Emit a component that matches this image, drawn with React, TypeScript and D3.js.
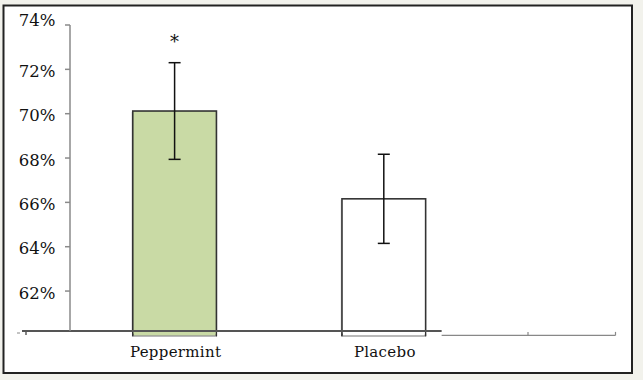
import React from "react";
import * as d3 from "d3";

const categories = ["Peppermint", "Placebo"];
const means = [70.12, 66.16];
const errors = [2.18, 2.01];
const fills = ["#c9daa5", "#ffffff"];
const markers = ["*", ""];
const yTicks = [62, 64, 66, 68, 70, 72, 74];

const W = 643;
const H = 380;
const FONT = "'DejaVu Serif', serif";

export default function App() {
  const y = d3.scaleLinear().domain([60, 74]).range([335.4, 25]);
  const axisX = 70;
  const step = 209.2;
  const x = d3
    .scaleBand<string>()
    .domain([...categories, "_"])
    .range([axisX, axisX + step * 3])
    .paddingInner(0.6)
    .paddingOuter(0.3);
  const bw = x.bandwidth();
  const baseY = y(60) - 4.4;
  const capW = 12;

  return (
    <div style={{ position: "absolute", left: 0, top: 0 }}>
      <svg width={W} height={H} style={{ display: "block" }}>
        <rect x={0} y={0} width={W} height={H} fill="#f2f2ec" />
        <rect x={3.5} y={5.5} width={628.5} height={367.5} fill="#ffffff" stroke="#222" strokeWidth={2} />

        {/* bars */}
        {categories.map((c, i) => (
          <g key={c}>
            <rect
              x={x(c)! - 1.5}
              y={y(means[i]) + 1}
              width={bw}
              height={y(60) - y(means[i])}
              fill="#000"
              opacity={0.1}
            />
            <rect
              x={x(c)}
              y={y(means[i])}
              width={bw}
              height={y(60) - y(means[i])}
              fill={fills[i]}
              stroke="#333"
              strokeWidth={1.6}
            />
          </g>
        ))}

        {/* white mask above original baseline between bars */}
        <rect x={10} y={baseY + 1} width={x(categories[0])! - 10 - 1} height={8} fill="#fff" />
        <rect
          x={x(categories[0])! + bw + 1}
          y={baseY + 1}
          width={x(categories[1])! - x(categories[0])! - bw - 2}
          height={8}
          fill="#fff"
        />
        <rect x={x(categories[1])! + bw + 1} y={baseY + 1} width={200} height={8} fill="#fff" />

        {/* original baseline remnants under bars */}
        {categories.map((c, i) => (
          <g key={"b" + c} stroke="#999" strokeWidth={1}>
            <rect x={x(c)! + 1} y={baseY + 1} width={bw - 2} height={y(60) - baseY - 0.5} fill={fills[i]} stroke="none" />
            <line x1={x(c)} x2={x(c)! + bw} y1={y(60) + 0.5} y2={y(60) + 0.5} />
            <line x1={x(c)} x2={x(c)} y1={y(60) - 2} y2={y(60) + 1} stroke="#333" />
            <line x1={x(c)! + bw} x2={x(c)! + bw} y1={y(60) - 2} y2={y(60) + 1} stroke="#333" />
          </g>
        ))}

        {/* right remnant axis */}
        <g stroke="#888" strokeWidth={1.2}>
          <line x1={x(categories[1])! + bw + 16} x2={615.5} y1={y(60)} y2={y(60)} />
          <line x1={528} x2={528} y1={y(60) - 3.5} y2={y(60)} />
          <line x1={615.5} x2={615.5} y1={y(60) - 3.5} y2={y(60)} />
        </g>

        {/* left remnant */}
        <line x1={17} x2={20} y1={baseY + 2} y2={baseY + 2} stroke="#888" strokeWidth={1} />
        <line x1={26} x2={26} y1={baseY} y2={baseY + 4} stroke="#333" strokeWidth={1.2} />

        {/* x axis */}
        <line x1={22} x2={x(categories[1])! + bw + 16} y1={baseY} y2={baseY} stroke="#555" strokeWidth={2} />

        {/* y axis */}
        <g stroke="#8a8a8a" strokeWidth={1.5}>
          <line x1={axisX} x2={axisX} y1={y(74)} y2={baseY} />
          {yTicks.map((t) => (
            <line key={t} x1={axisX - 5} x2={axisX} y1={y(t)} y2={y(t)} />
          ))}
        </g>
        {yTicks.map((t) => (
          <text
            key={"l" + t}
            x={55.5}
            y={y(t) + (t === 74 ? 0.5 : 7.5)}
            textAnchor="end"
            fontFamily={FONT}
            fontSize={16.5}
            fill="#111"
          >
            {t}%
          </text>
        ))}

        {/* error bars */}
        {categories.map((c, i) => {
          const cx = x(c)! + bw / 2;
          return (
            <g key={"e" + c} stroke="#111" strokeWidth={1.5}>
              <line x1={cx} x2={cx} y1={y(means[i] + errors[i])} y2={y(means[i] - errors[i])} />
              <line x1={cx - capW / 2} x2={cx + capW / 2} y1={y(means[i] + errors[i])} y2={y(means[i] + errors[i])} />
              <line x1={cx - capW / 2} x2={cx + capW / 2} y1={y(means[i] - errors[i])} y2={y(means[i] - errors[i])} />
            </g>
          );
        })}

        {/* significance markers */}
        {categories.map((c, i) => (
          <text
            key={"m" + c}
            x={x(c)! + bw / 2}
            y={y(means[i] + errors[i]) - 15}
            textAnchor="middle"
            fontFamily={FONT}
            fontSize={18}
            fill="#111"
          >
            {markers[i]}
          </text>
        ))}

        {/* category labels */}
        {categories.map((c) => (
          <text
            key={"c" + c}
            x={x(c)! + bw / 2 + 1}
            y={357}
            textAnchor="middle"
            fontFamily={FONT}
            fontSize={15}
            letterSpacing={0.3}
            fill="#111"
          >
            {c}
          </text>
        ))}
      </svg>
    </div>
  );
}
